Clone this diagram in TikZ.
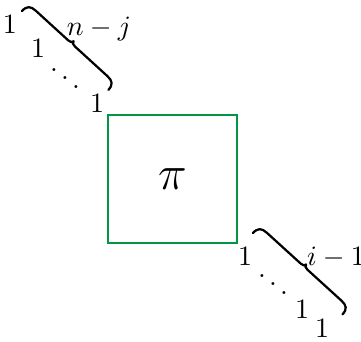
\documentclass[tikz,border=0pt]{standalone}
\usepackage{amsmath, amssymb}
\usepackage{tikz}
\usepackage{xcolor}
\definecolor{boxgreen}{RGB}{0,150,70}

\begin{document}
\begin{tikzpicture}[x=0.3571pt, y=-0.3571pt,
  entry/.style={anchor=base, inner sep=0pt},
  brc/.style={thick, line cap=round, line join=round}]
  \useasboundingbox (0,0) rectangle (361,341);

  \node[draw=boxgreen, semithick, minimum width=46pt, minimum height=45.5pt] (P) at (172.5,179) {\LARGE $\pi$};

  % upper left block
  \node[entry] (a1) at (10,33) {$1$};
  \node[entry] (a2) at (38,57) {$1$};
  \node[entry] (ad) at (65,91) {$\ddots$};
  \node[entry] (a3) at (97,112) {$1$};
  \coordinate (U1) at (22,11);
  \begin{scope}[shift={(U1)}, rotate=-42.4]
    \draw[brc] (0,0) .. controls (0,-7) and (3,-9.5) .. (10,-9.5) -- (54,-9.5)
      .. controls (57,-9.5) and (58.5,-10.5) .. (58.5,-12.5)
      .. controls (58.5,-10.5) and (60,-9.5) .. (63,-9.5) -- (107,-9.5)
      .. controls (114,-9.5) and (117,-7) .. (117,0);
  \end{scope}
  \node[entry] (nj) at (99,35) {$n-j$};

  % lower right block
  \node[entry] (b1) at (245,265) {$1$};
  \node[entry] (bd) at (273,297) {$\ddots$};
  \node[entry] (b2) at (302,318) {$1$};
  \node[entry] (b3) at (322,337) {$1$};
  \coordinate (L1) at (253,233);
  \begin{scope}[shift={(L1)}, rotate=-42.3]
    \draw[brc] (0,0) .. controls (0,-7) and (3,-9.5) .. (10,-9.5) -- (56,-9.5)
      .. controls (59,-9.5) and (60.5,-10.5) .. (60.5,-12.5)
      .. controls (60.5,-10.5) and (62,-9.5) .. (65,-9.5) -- (111,-9.5)
      .. controls (118,-9.5) and (121,-7) .. (121,0);
  \end{scope}
  \node[entry] (im) at (336,265) {$i-1$};
\end{tikzpicture}
\end{document}
